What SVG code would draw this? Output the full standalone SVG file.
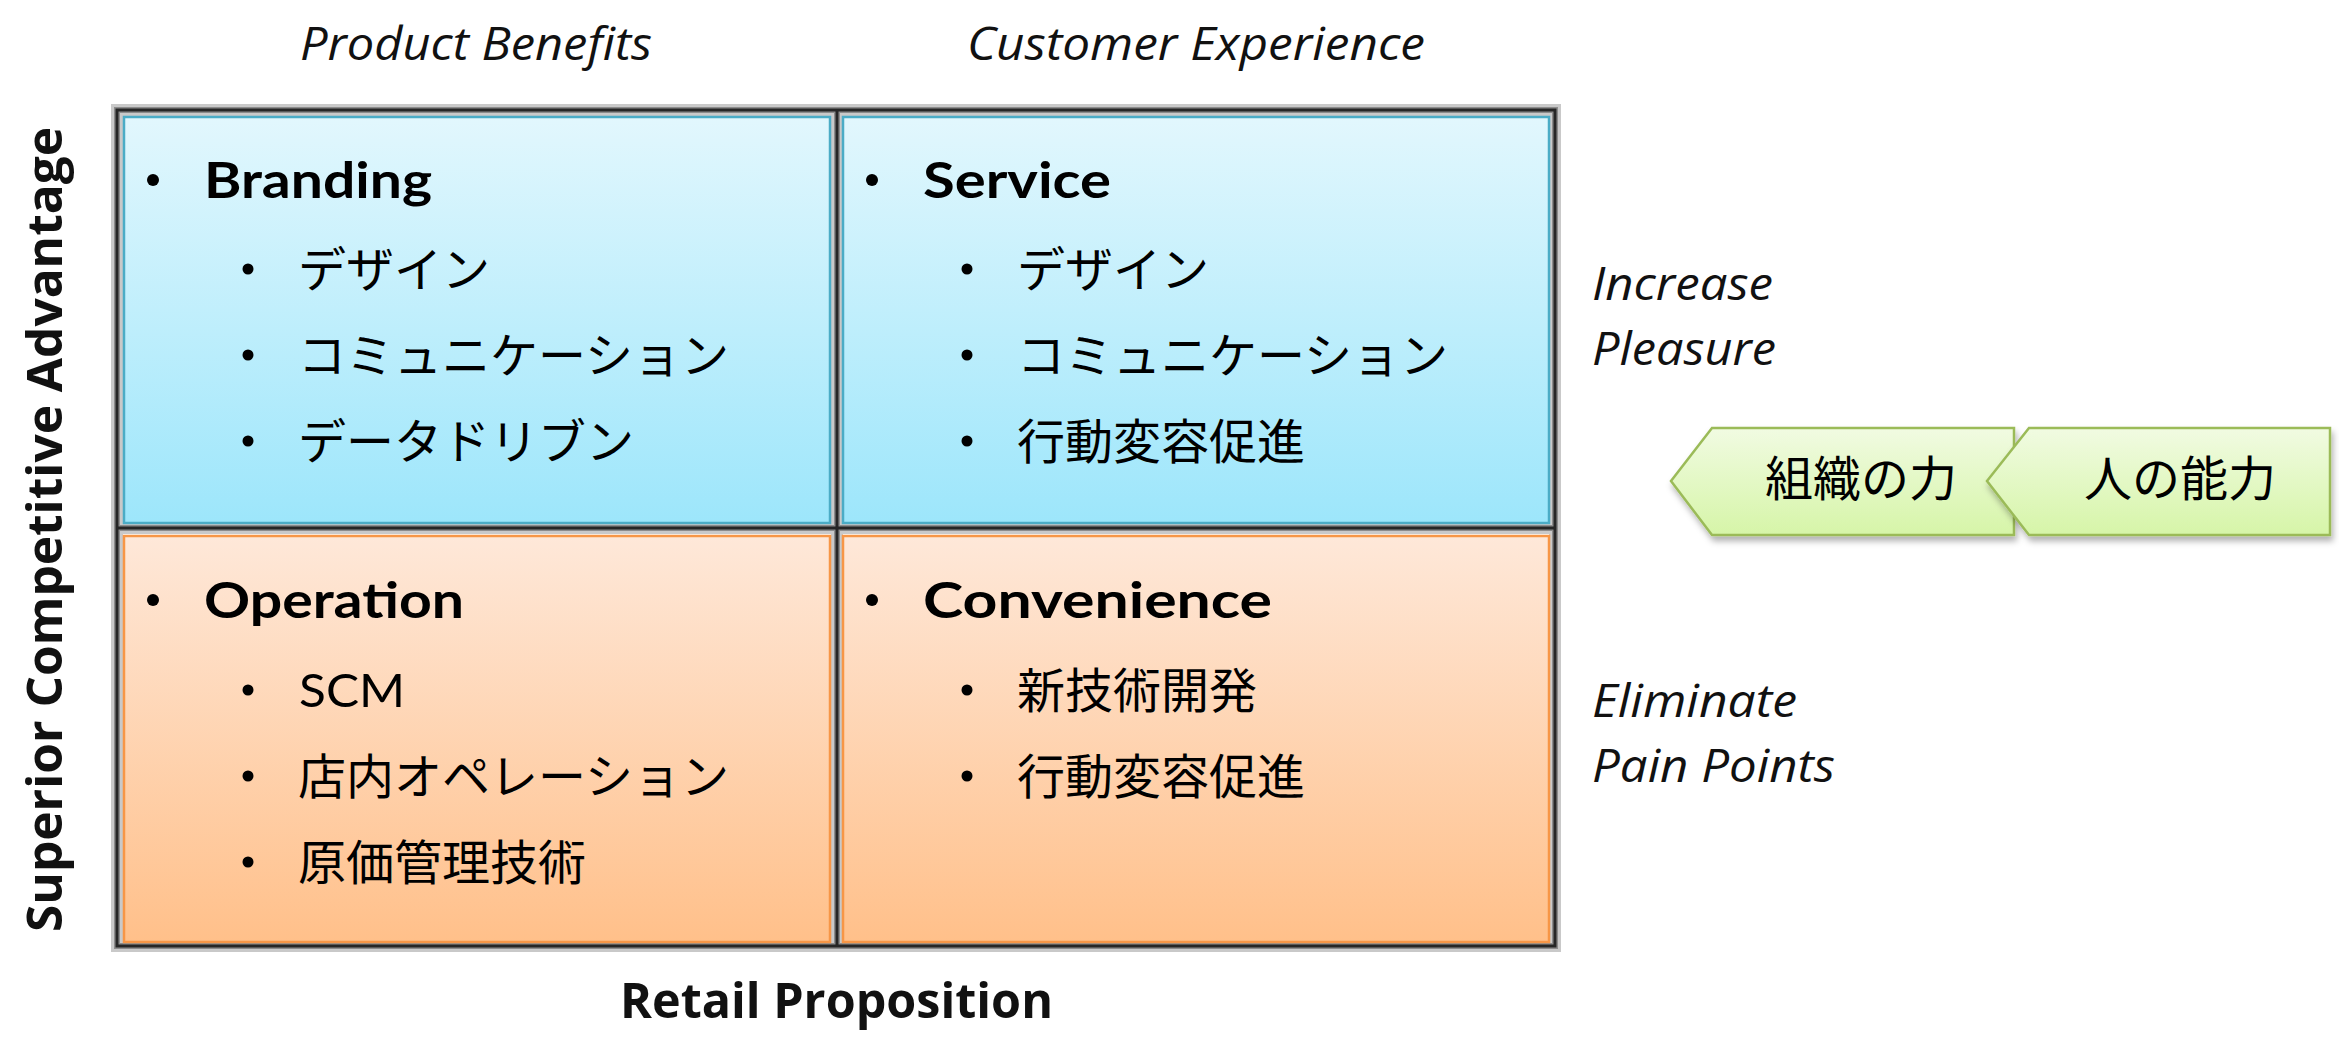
<svg xmlns="http://www.w3.org/2000/svg" width="2339" height="1037" viewBox="0 0 2339 1037">
  <defs>
    <linearGradient id="gBlue" x1="0" y1="0" x2="0" y2="1">
      <stop offset="0" stop-color="#E2F7FD"/>
      <stop offset="1" stop-color="#9DE6FB"/>
    </linearGradient>
    <linearGradient id="gOrange" x1="0" y1="0" x2="0" y2="1">
      <stop offset="0" stop-color="#FEE8D9"/>
      <stop offset="1" stop-color="#FFC08A"/>
    </linearGradient>
    <linearGradient id="gGreen" x1="0" y1="0" x2="0" y2="1">
      <stop offset="0" stop-color="#F1FBE2"/>
      <stop offset="1" stop-color="#D6F5A8"/>
    </linearGradient>
    <filter id="shadow" x="-10%" y="-20%" width="120%" height="150%">
      <feDropShadow dx="2" dy="5" stdDeviation="3" flood-color="#000" flood-opacity="0.3"/>
    </filter>
    <style>
      .blue { fill: url(#gBlue); stroke: #4BACC6; stroke-width: 2.5; }
      .orange { fill: url(#gOrange); stroke: #F79646; stroke-width: 2.5; }
      .chev { fill: url(#gGreen); stroke: #9BBB59; stroke-width: 2.5; filter: url(#shadow); }
      .frameHalo { fill: none; stroke: #c9c9c9; stroke-width: 12; }
      .frameMid { fill: none; stroke: #8c8c8c; stroke-width: 6; }
      .frameCore { fill: none; stroke: #262626; stroke-width: 3; }
      .head { font-family: "Open Sans", "Liberation Sans", sans-serif; font-style: italic; font-size: 46px; fill: #111; }
      .axis { font-family: "Open Sans", "Liberation Sans", sans-serif; font-weight: 700; font-size: 48px; fill: #111; }
      .title { font-family: Lato, "Liberation Sans", sans-serif; font-weight: 700; font-size: 50px; fill: #000; }
      .sub { font-family: Lato, "Liberation Sans", sans-serif; font-size: 47px; fill: #000; }
      .jp { font-family: "Noto Sans CJK JP", sans-serif; font-size: 48px; fill: #000; }
      .bul { fill: #000; }
    </style>
  </defs>

  <rect width="2339" height="1037" fill="#ffffff"/>

  <!-- frame -->
  <g id="frame">
    <rect class="frameHalo" x="117" y="110" width="1438" height="836"/>
    <line class="frameHalo" x1="837" y1="110" x2="837" y2="946"/>
    <line class="frameHalo" x1="117" y1="528" x2="1555" y2="528"/>
    <rect class="frameMid" x="117" y="110" width="1438" height="836"/>
    <line class="frameMid" x1="837" y1="110" x2="837" y2="946"/>
    <line class="frameMid" x1="117" y1="528" x2="1555" y2="528"/>
    <rect class="frameCore" x="117" y="110" width="1438" height="836"/>
    <line class="frameCore" x1="837" y1="110" x2="837" y2="946"/>
    <line class="frameCore" x1="117" y1="528" x2="1555" y2="528"/>
  </g>

  <!-- quadrant: Branding -->
  <g id="branding">
    <rect class="blue" x="124" y="117" width="706" height="406"/>
    <circle class="bul" cx="153" cy="180" r="6"/>
    <text class="title" x="204" y="198" textLength="228" lengthAdjust="spacingAndGlyphs">Branding</text>
    <circle class="bul" cx="248" cy="269" r="5.5"/>
    <text class="jp" x="298" y="287">デザイン</text>
    <circle class="bul" cx="248" cy="355" r="5.5"/>
    <text class="jp" x="298" y="373">コミュニケーション</text>
    <circle class="bul" cx="248" cy="441" r="5.5"/>
    <text class="jp" x="298" y="459">データドリブン</text>
  </g>

  <!-- quadrant: Service -->
  <g id="service">
    <rect class="blue" x="843" y="117" width="706" height="406"/>
    <circle class="bul" cx="872" cy="180" r="6"/>
    <text class="title" x="923" y="198" textLength="188" lengthAdjust="spacingAndGlyphs">Service</text>
    <circle class="bul" cx="967" cy="269" r="5.5"/>
    <text class="jp" x="1017" y="287">デザイン</text>
    <circle class="bul" cx="967" cy="355" r="5.5"/>
    <text class="jp" x="1017" y="373">コミュニケーション</text>
    <circle class="bul" cx="967" cy="441" r="5.5"/>
    <text class="jp" x="1017" y="459">行動変容促進</text>
  </g>

  <!-- quadrant: Operation -->
  <g id="operation">
    <rect class="orange" x="124" y="536" width="706" height="406"/>
    <circle class="bul" cx="153" cy="600" r="6"/>
    <text class="title" x="204" y="618" textLength="260" lengthAdjust="spacingAndGlyphs">Operation</text>
    <circle class="bul" cx="248" cy="690" r="5.5"/>
    <text class="sub" x="299" y="707" textLength="106" lengthAdjust="spacingAndGlyphs">SCM</text>
    <circle class="bul" cx="248" cy="776" r="5.5"/>
    <text class="jp" x="298" y="794">店内オペレーション</text>
    <circle class="bul" cx="248" cy="862" r="5.5"/>
    <text class="jp" x="298" y="880">原価管理技術</text>
  </g>

  <!-- quadrant: Convenience -->
  <g id="convenience">
    <rect class="orange" x="843" y="536" width="706" height="406"/>
    <circle class="bul" cx="872" cy="600" r="6"/>
    <text class="title" x="923" y="618" textLength="349" lengthAdjust="spacingAndGlyphs">Convenience</text>
    <circle class="bul" cx="967" cy="690" r="5.5"/>
    <text class="jp" x="1017" y="708">新技術開発</text>
    <circle class="bul" cx="967" cy="776" r="5.5"/>
    <text class="jp" x="1017" y="794">行動変容促進</text>
  </g>

  <!-- axis / column / row labels -->
  <g id="labels">
    <text class="head" x="300" y="60" textLength="352" lengthAdjust="spacingAndGlyphs">Product Benefits</text>
    <text class="head" x="967" y="60" textLength="458" lengthAdjust="spacingAndGlyphs">Customer Experience</text>
    <text class="head" x="1592" y="300" textLength="181" lengthAdjust="spacingAndGlyphs">Increase</text>
    <text class="head" x="1592" y="365" textLength="184" lengthAdjust="spacingAndGlyphs">Pleasure</text>
    <text class="head" x="1592" y="717" textLength="205" lengthAdjust="spacingAndGlyphs">Eliminate</text>
    <text class="head" x="1592" y="782" textLength="243" lengthAdjust="spacingAndGlyphs">Pain Points</text>
    <text class="axis" x="620" y="1018" textLength="433" lengthAdjust="spacingAndGlyphs">Retail Proposition</text>
    <text class="axis" x="0" y="0" transform="translate(62,932) rotate(-90)" textLength="805" lengthAdjust="spacingAndGlyphs">Superior Competitive Advantage</text>
  </g>

  <!-- chevrons -->
  <g id="soshiki">
    <polygon class="chev" points="1712,428 2014,428 2014,535 1712,535 1671,481"/>
    <text class="jp" x="1861" y="496" text-anchor="middle" font-size="47">組織の力</text>
  </g>
  <g id="hito">
    <polygon class="chev" points="2029,428 2330,428 2330,535 2029,535 1987,481"/>
    <text class="jp" x="2180" y="496" text-anchor="middle" font-size="47">人の能力</text>
  </g>

  <g id="connectors"></g>
</svg>
